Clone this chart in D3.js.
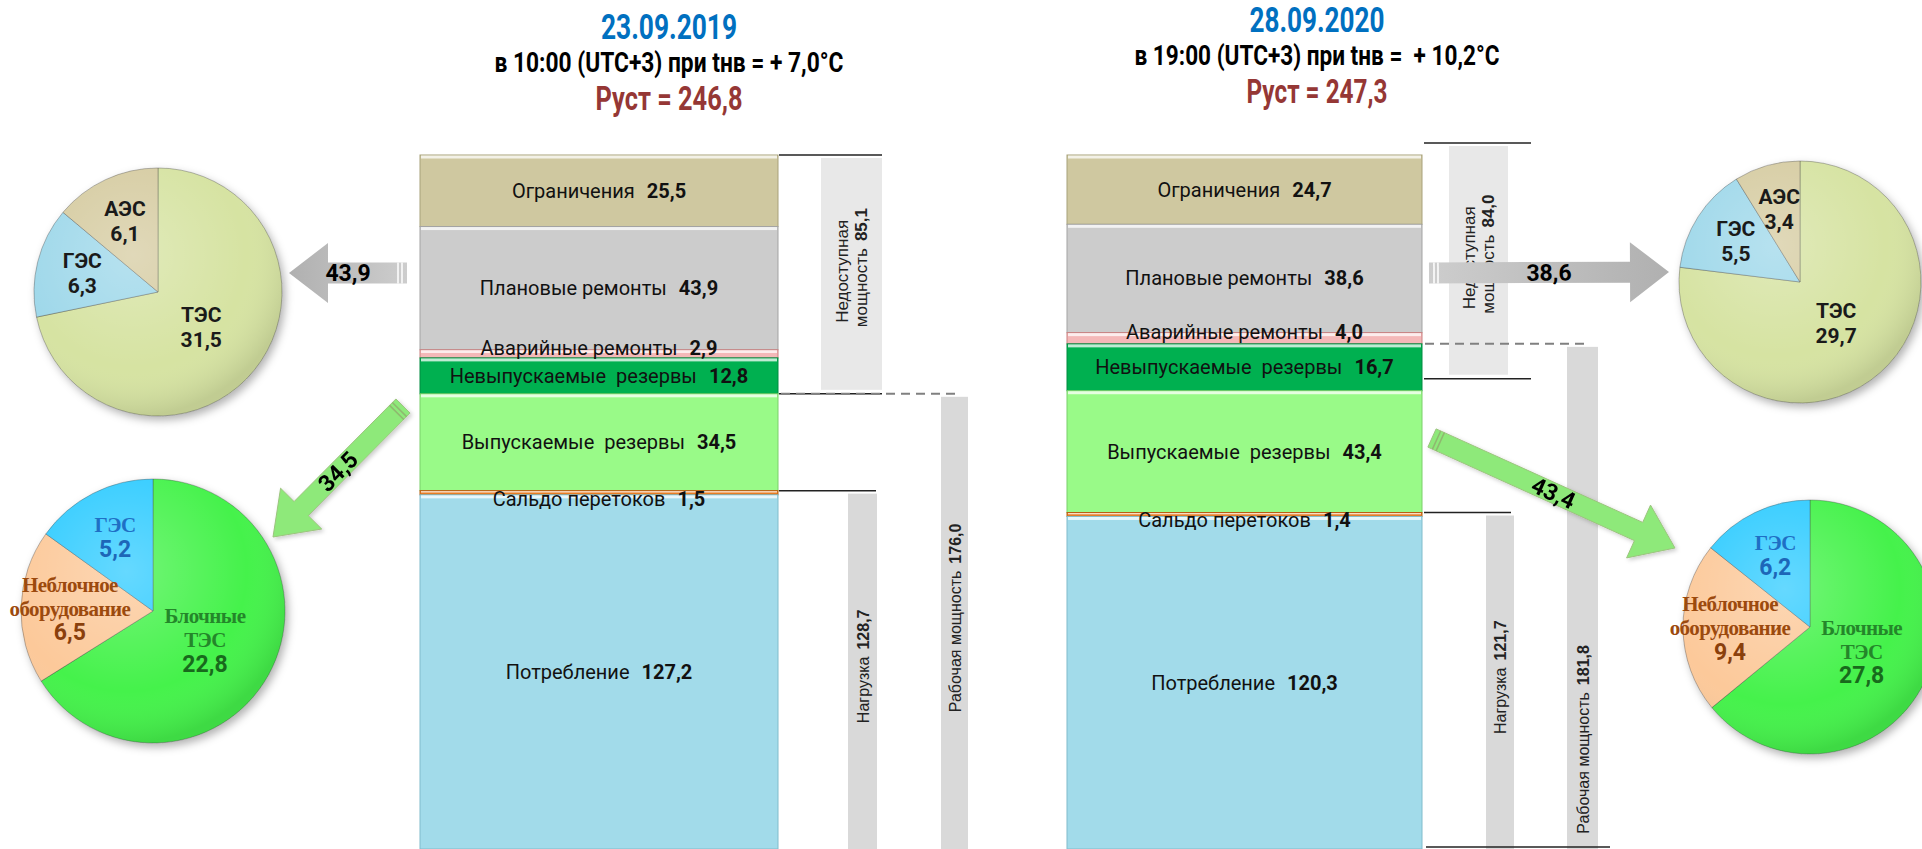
<!DOCTYPE html>
<html>
<head>
<meta charset="utf-8">
<script src="https://cdn.jsdelivr.net/npm/d3@7"></script>
<style>
body { margin: 0; background: #fff; }
svg { display: block; }
.narrow { font-family: "Liberation Sans Narrow", "Arial Narrow", Roboto, sans-serif; }
.arial { font-family: "Liberation Sans", Arial, sans-serif; }
.serif { font-family: "Liberation Serif", "Times New Roman", serif; }
</style>
</head>
<body>
<script>
var width = 1922, height = 849;

// данные
var dates = ["23.09.2019", "28.09.2020"];
var conditions = ["в 10:00 (UTC+3) при tнв = + 7,0°С", "в 19:00 (UTC+3) при tнв =  + 10,2°С"];
var installed = [246.8, 247.3];

var segNames = ["Ограничения", "Плановые ремонты", "Аварийные ремонты", "Невыпускаемые  резервы",
  "Выпускаемые  резервы", "Сальдо перетоков", "Потребление"];
var seg2019 = [25.5, 43.9, 2.9, 12.8, 34.5, 1.5, 127.2];
var seg2020 = [24.7, 38.6, 4.0, 16.7, 43.4, 1.4, 120.3];

var unavailable = [85.1, 84.0];
var load = [128.7, 121.7];
var working = [176.0, 181.8];

var repairNames = ["ТЭС", "ГЭС", "АЭС"];
var repair2019 = [31.5, 6.3, 6.1];
var repair2020 = [29.7, 5.5, 3.4];

var reserveNames = ["Блочные ТЭС", "Неблочное оборудование", "ГЭС"];
var reserve2019 = [22.8, 6.5, 5.2];
var reserve2020 = [27.8, 9.4, 6.2];

var segments = [seg2019, seg2020];
var repairs = [repair2019, repair2020];
var reserves = [reserve2019, reserve2020];

// оформление
var segColors = ["#cfc8a0", "#cccccc", "#f4b8b8", "#00b050", "#99fa88", "#e87c22", "#a2dbea"];
var segStroke = ["#a8a17a", "#a3a3a3", "#c98080", "#008c40", "#7ad06a", "#b85e12", "#80bccc"];
var repairColors = ["#d6e3a2", "#9fd8ea", "#d6cca2"];
var reserveColors = ["#44f24c", "#fcc99a", "#33ccff"];
var reserveText = ["#24862a", "#9c4a0e", "#1f6fc5"];
var reserveValText = ["#186a1c", "#8a400c", "#1d66b8"];

var layout = [
  { barX: 420, barW: 358, cx: 669, titleY: [39, 72, 110], titleW: [136, 349, 147],
    nedX: 821, nedW: 61, nedShift: 0, nedLine: [779, 882],
    dashIdx: 3, dashX: [781, 956],
    loadX: 848, loadW: 29, loadLine: [779, 876],
    workX: 941, workW: 27, workText: 0.5, bottomLine: null,
    repairPie: { cx: 158, cy: 292, r: 124 }, reservePie: { cx: 153, cy: 611, r: 132 },
    grayArrow: [407, 273, 289, 273], greenArrow: [403, 406, 273, 537] },
  { barX: 1067, barW: 355, cx: 1317, titleY: [32, 65, 103], titleW: [135, 365, 141],
    nedX: 1449, nedW: 59, nedShift: -12, nedLine: [1424, 1531],
    dashIdx: 2, dashX: [1425, 1590],
    loadX: 1486, loadW: 28, loadLine: [1424, 1511],
    workX: 1567, workW: 31, workText: 0.79, bottomLine: [1426, 1610],
    repairPie: { cx: 1800, cy: 282, r: 121 }, reservePie: { cx: 1810, cy: 627, r: 127 },
    grayArrow: [1429, 273, 1669, 272], greenArrow: [1432, 438, 1675, 548] }
];

var fmt = function(v) { return d3.format(".1f")(v).replace(".", ","); };

var y = d3.scaleLinear().domain([0, 247.3]).range([155, 849]);

var svg = d3.select("body").append("svg")
  .attr("width", width)
  .attr("height", height);

var defs = svg.append("defs");

var shadow = defs.append("filter").attr("id", "shadow")
  .attr("x", "-20%").attr("y", "-20%").attr("width", "140%").attr("height", "140%");
shadow.append("feDropShadow")
  .attr("dx", 3).attr("dy", 4).attr("stdDeviation", 4)
  .attr("flood-color", "#000").attr("flood-opacity", 0.3);

var soft = defs.append("filter").attr("id", "soft")
  .attr("x", "-20%").attr("y", "-20%").attr("width", "140%").attr("height", "140%");
soft.append("feDropShadow")
  .attr("dx", 2).attr("dy", 2).attr("stdDeviation", 2)
  .attr("flood-color", "#000").attr("flood-opacity", 0.2);

var shine = defs.append("radialGradient").attr("id", "shine")
  .attr("cx", "40%").attr("cy", "35%").attr("r", "65%");
shine.append("stop").attr("offset", "0%").attr("stop-color", "#fff").attr("stop-opacity", 0.25);
shine.append("stop").attr("offset", "70%").attr("stop-color", "#fff").attr("stop-opacity", 0);
shine.append("stop").attr("offset", "100%").attr("stop-color", "#000").attr("stop-opacity", 0.1);

function arrowPath(x0, y0, x1, y1, sw, hw, hl) {
  var len = Math.hypot(x1 - x0, y1 - y0);
  var ux = (x1 - x0) / len, uy = (y1 - y0) / len;
  var nx = -uy, ny = ux;
  var bx = x1 - ux * hl, by = y1 - uy * hl;
  var pts = [
    [x0 + nx * sw / 2, y0 + ny * sw / 2],
    [bx + nx * sw / 2, by + ny * sw / 2],
    [bx + nx * hw / 2, by + ny * hw / 2],
    [x1, y1],
    [bx - nx * hw / 2, by - ny * hw / 2],
    [bx - nx * sw / 2, by - ny * sw / 2],
    [x0 - nx * sw / 2, y0 - ny * sw / 2]
  ];
  return d3.line()(pts) + "Z";
}

function tailStripes(g, a, sw, color) {
  var len = Math.hypot(a[2] - a[0], a[3] - a[1]);
  var ux = (a[2] - a[0]) / len, uy = (a[3] - a[1]) / len;
  [5, 9].forEach(function(d) {
    var cx = a[0] + ux * d, cy = a[1] + uy * d;
    g.append("line")
      .attr("x1", cx - uy * sw / 2).attr("y1", cy + ux * sw / 2)
      .attr("x2", cx + uy * sw / 2).attr("y2", cy - ux * sw / 2)
      .attr("stroke", color).attr("stroke-width", 1.5);
  });
}

function arrowLabel(g, a, text) {
  var mx = (a[0] + a[2]) / 2, my = (a[1] + a[3]) / 2;
  var ang = Math.atan2(a[3] - a[1], a[2] - a[0]) * 180 / Math.PI;
  if (ang > 90) ang -= 180;
  if (ang < -90) ang += 180;
  g.append("text").attr("class", "narrow")
    .attr("transform", "translate(" + mx + "," + my + ") rotate(" + ang + ")")
    .attr("text-anchor", "middle").attr("dy", "0.35em")
    .attr("font-size", 23).attr("font-weight", "bold").attr("fill", "#000")
    .text(text);
}

// вертикальная строка: обычный текст + жирное значение, центр в (x, yc)
function vLine(x, yc, off, name, value) {
  var t = svg.append("text").attr("class", "arial")
    .attr("transform", "translate(" + x + "," + yc + ") rotate(-90)")
    .attr("font-size", 16).attr("fill", "#222");
  var first = t.append("tspan").attr("x", 0).attr("y", off).text(name);
  if (value) t.append("tspan").attr("dx", 7).attr("font-weight", "bold").text(value);
  var w = t.node().getComputedTextLength();
  first.attr("x", -w / 2);
  return t;
}

function drawPie(conf, names, values, colors, kind) {
  var g = svg.append("g").attr("transform", "translate(" + conf.cx + "," + conf.cy + ")");
  var arcs = d3.pie().sort(null).value(function(d) { return d; })(values);
  var arc = d3.arc().innerRadius(0).outerRadius(conf.r);
  var body = g.append("g").attr("filter", "url(#shadow)");
  body.selectAll("path").data(arcs).join("path")
    .attr("d", arc)
    .attr("fill", function(d, i) { return colors[i]; })
    .attr("stroke", "rgba(60,60,60,0.45)")
    .attr("stroke-width", 0.8);
  g.append("circle").attr("r", conf.r).attr("fill", "url(#shine)");

  arcs.forEach(function(d, i) {
    var mid = (d.startAngle + d.endAngle) / 2;
    var rf = i === 0 ? 0.45 : 0.63;
    var lx = Math.sin(mid) * conf.r * rf, ly = -Math.cos(mid) * conf.r * rf;
    var lines, lh = 25;
    if (kind === "repair") {
      lines = [names[i], fmt(values[i])];
    } else {
      lines = names[i].split(" ").concat([fmt(values[i])]);
      lh = 24;
    }
    var t = g.append("text").attr("text-anchor", "middle");
    lines.forEach(function(s, k) {
      var isVal = k === lines.length - 1;
      var ts = t.append("tspan")
        .attr("x", lx)
        .attr("y", ly + (k - (lines.length - 1) / 2) * lh)
        .attr("dy", "0.35em")
        .attr("font-weight", "bold")
        .text(s);
      if (kind === "repair") {
        ts.attr("class", "narrow").attr("font-size", 21).attr("fill", "#1a1a1a");
      } else if (isVal) {
        ts.attr("class", "narrow").attr("font-size", 23).attr("fill", reserveValText[i]);
      } else {
        ts.attr("class", "serif").attr("font-size", 21).attr("fill", reserveText[i])
          .attr("letter-spacing", -0.6);
      }
    });
  });
}

layout.forEach(function(L, p) {
  var vals = segments[p];
  var ends = d3.cumsum(vals);
  var starts = ends.map(function(e, i) { return e - vals[i]; });

  // заголовок
  var titles = [dates[p], conditions[p], "Руст = " + fmt(installed[p])];
  var tColors = ["#0070c0", "#000", "#953735"];
  var tSizes = [35, 27, 33];
  titles.forEach(function(s, k) {
    svg.append("text").attr("class", "narrow")
      .attr("x", L.cx - L.titleW[k] / 2).attr("y", L.titleY[k])
      .attr("textLength", L.titleW[k]).attr("lengthAdjust", "spacingAndGlyphs")
      .attr("font-size", tSizes[k]).attr("font-weight", "bold")
      .attr("fill", tColors[k])
      .style("white-space", "pre")
      .text(s);
  });

  // стек
  var bar = svg.append("g");
  vals.forEach(function(v, i) {
    var y0 = y(starts[i]), y1 = Math.min(y(ends[i]), height);
    var h = y1 - y0;
    bar.append("rect")
      .attr("x", L.barX).attr("y", y0)
      .attr("width", L.barW).attr("height", h)
      .attr("fill", segColors[i])
      .attr("stroke", segStroke[i]).attr("stroke-width", 1);
    bar.append("rect")
      .attr("x", L.barX + 1).attr("y", y0 + 0.5)
      .attr("width", L.barW - 2).attr("height", Math.min(3, h / 3))
      .attr("fill", "#fff").attr("opacity", 0.75);
  });

  vals.forEach(function(v, i) {
    var cy = (y(starts[i]) + Math.min(y(ends[i]), height)) / 2;
    if (i === 2) cy -= 6;
    if (i === 5) cy += 6;
    var t = bar.append("text").attr("class", "narrow")
      .attr("x", L.barX + L.barW / 2).attr("y", cy).attr("dy", "0.35em")
      .attr("text-anchor", "middle").attr("font-size", 20).attr("fill", "#111")
      .style("white-space", "pre");
    t.append("tspan").text(segNames[i]);
    t.append("tspan").attr("dx", 12).attr("font-weight", "bold").text(fmt(v));
  });

  // недоступная мощность
  var nTop = y(0) + L.nedShift, nBot = y(unavailable[p]) + L.nedShift;
  svg.append("rect")
    .attr("x", L.nedX).attr("y", nTop + 3)
    .attr("width", L.nedW).attr("height", nBot - nTop - 7)
    .attr("fill", "#e8e8e8");
  [nTop, nBot].forEach(function(yy) {
    svg.append("line")
      .attr("x1", L.nedLine[0]).attr("x2", L.nedLine[1])
      .attr("y1", yy).attr("y2", yy)
      .attr("stroke", "#222").attr("stroke-width", 1.5);
  });
  var nx = L.nedX + L.nedW / 2, ny = (nTop + nBot) / 2;
  vLine(nx, ny, -4, "Недоступная", null).attr("font-size", 17);
  vLine(nx, ny, 15, "мощность", fmt(unavailable[p])).attr("font-size", 17);

  // рабочая мощность
  var dashY = y(ends[L.dashIdx]);
  svg.append("line")
    .attr("x1", L.dashX[0]).attr("x2", L.dashX[1])
    .attr("y1", dashY).attr("y2", dashY)
    .attr("stroke", "#808080").attr("stroke-width", 2)
    .attr("stroke-dasharray", "9,6");
  svg.append("rect")
    .attr("x", L.workX).attr("y", dashY + 3)
    .attr("width", L.workW).attr("height", height - dashY - 3)
    .attr("fill", "#d9d9d9");
  vLine(L.workX + L.workW / 2 + 6, dashY + (height - dashY) * L.workText, 0,
    "Рабочая мощность", fmt(working[p]));

  // нагрузка
  var lTop = y(starts[5]);
  svg.append("line")
    .attr("x1", L.loadLine[0]).attr("x2", L.loadLine[1])
    .attr("y1", lTop).attr("y2", lTop)
    .attr("stroke", "#222").attr("stroke-width", 1.5);
  svg.append("rect")
    .attr("x", L.loadX).attr("y", lTop + 3)
    .attr("width", L.loadW).attr("height", height - lTop - 3)
    .attr("fill", "#d9d9d9");
  vLine(L.loadX + L.loadW / 2 + 6, (lTop + height) / 2, 0, "Нагрузка", fmt(load[p]));

  if (L.bottomLine) {
    svg.append("line")
      .attr("x1", L.bottomLine[0]).attr("x2", L.bottomLine[1])
      .attr("y1", height - 2).attr("y2", height - 2)
      .attr("stroke", "#222").attr("stroke-width", 1.5);
  }

  // серая стрелка: плановые ремонты
  var ga = L.grayArrow;
  var gg = defs.append("linearGradient").attr("id", "gray" + p)
    .attr("gradientUnits", "userSpaceOnUse")
    .attr("x1", ga[2]).attr("y1", 0).attr("x2", ga[0]).attr("y2", 0);
  gg.append("stop").attr("offset", "0%").attr("stop-color", "#b0b0b0");
  gg.append("stop").attr("offset", "100%").attr("stop-color", "#cdcdcd");
  var garrow = svg.append("g");
  garrow.append("path")
    .attr("d", arrowPath(ga[0], ga[1], ga[2], ga[3], 21, 60, 39))
    .attr("fill", "url(#gray" + p + ")");
  tailStripes(garrow, ga, 21, "#fff");
  arrowLabel(garrow, ga, fmt(vals[1]));

  // зелёная стрелка: выпускаемые резервы
  var ea = L.greenArrow;
  var earrow = svg.append("g").attr("filter", "url(#soft)");
  earrow.append("path")
    .attr("d", arrowPath(ea[0], ea[1], ea[2], ea[3], 20, 58, 40))
    .attr("fill", "#8ee97a")
    .attr("stroke", "#9cc47e").attr("stroke-width", 1);
  tailStripes(earrow, ea, 20, "#8fb86f");
  arrowLabel(earrow, ea, fmt(vals[4]));

  drawPie(L.repairPie, repairNames, repairs[p], repairColors, "repair");
  drawPie(L.reservePie, reserveNames, reserves[p], reserveColors, "reserve");
});
</script>
</body>
</html>
